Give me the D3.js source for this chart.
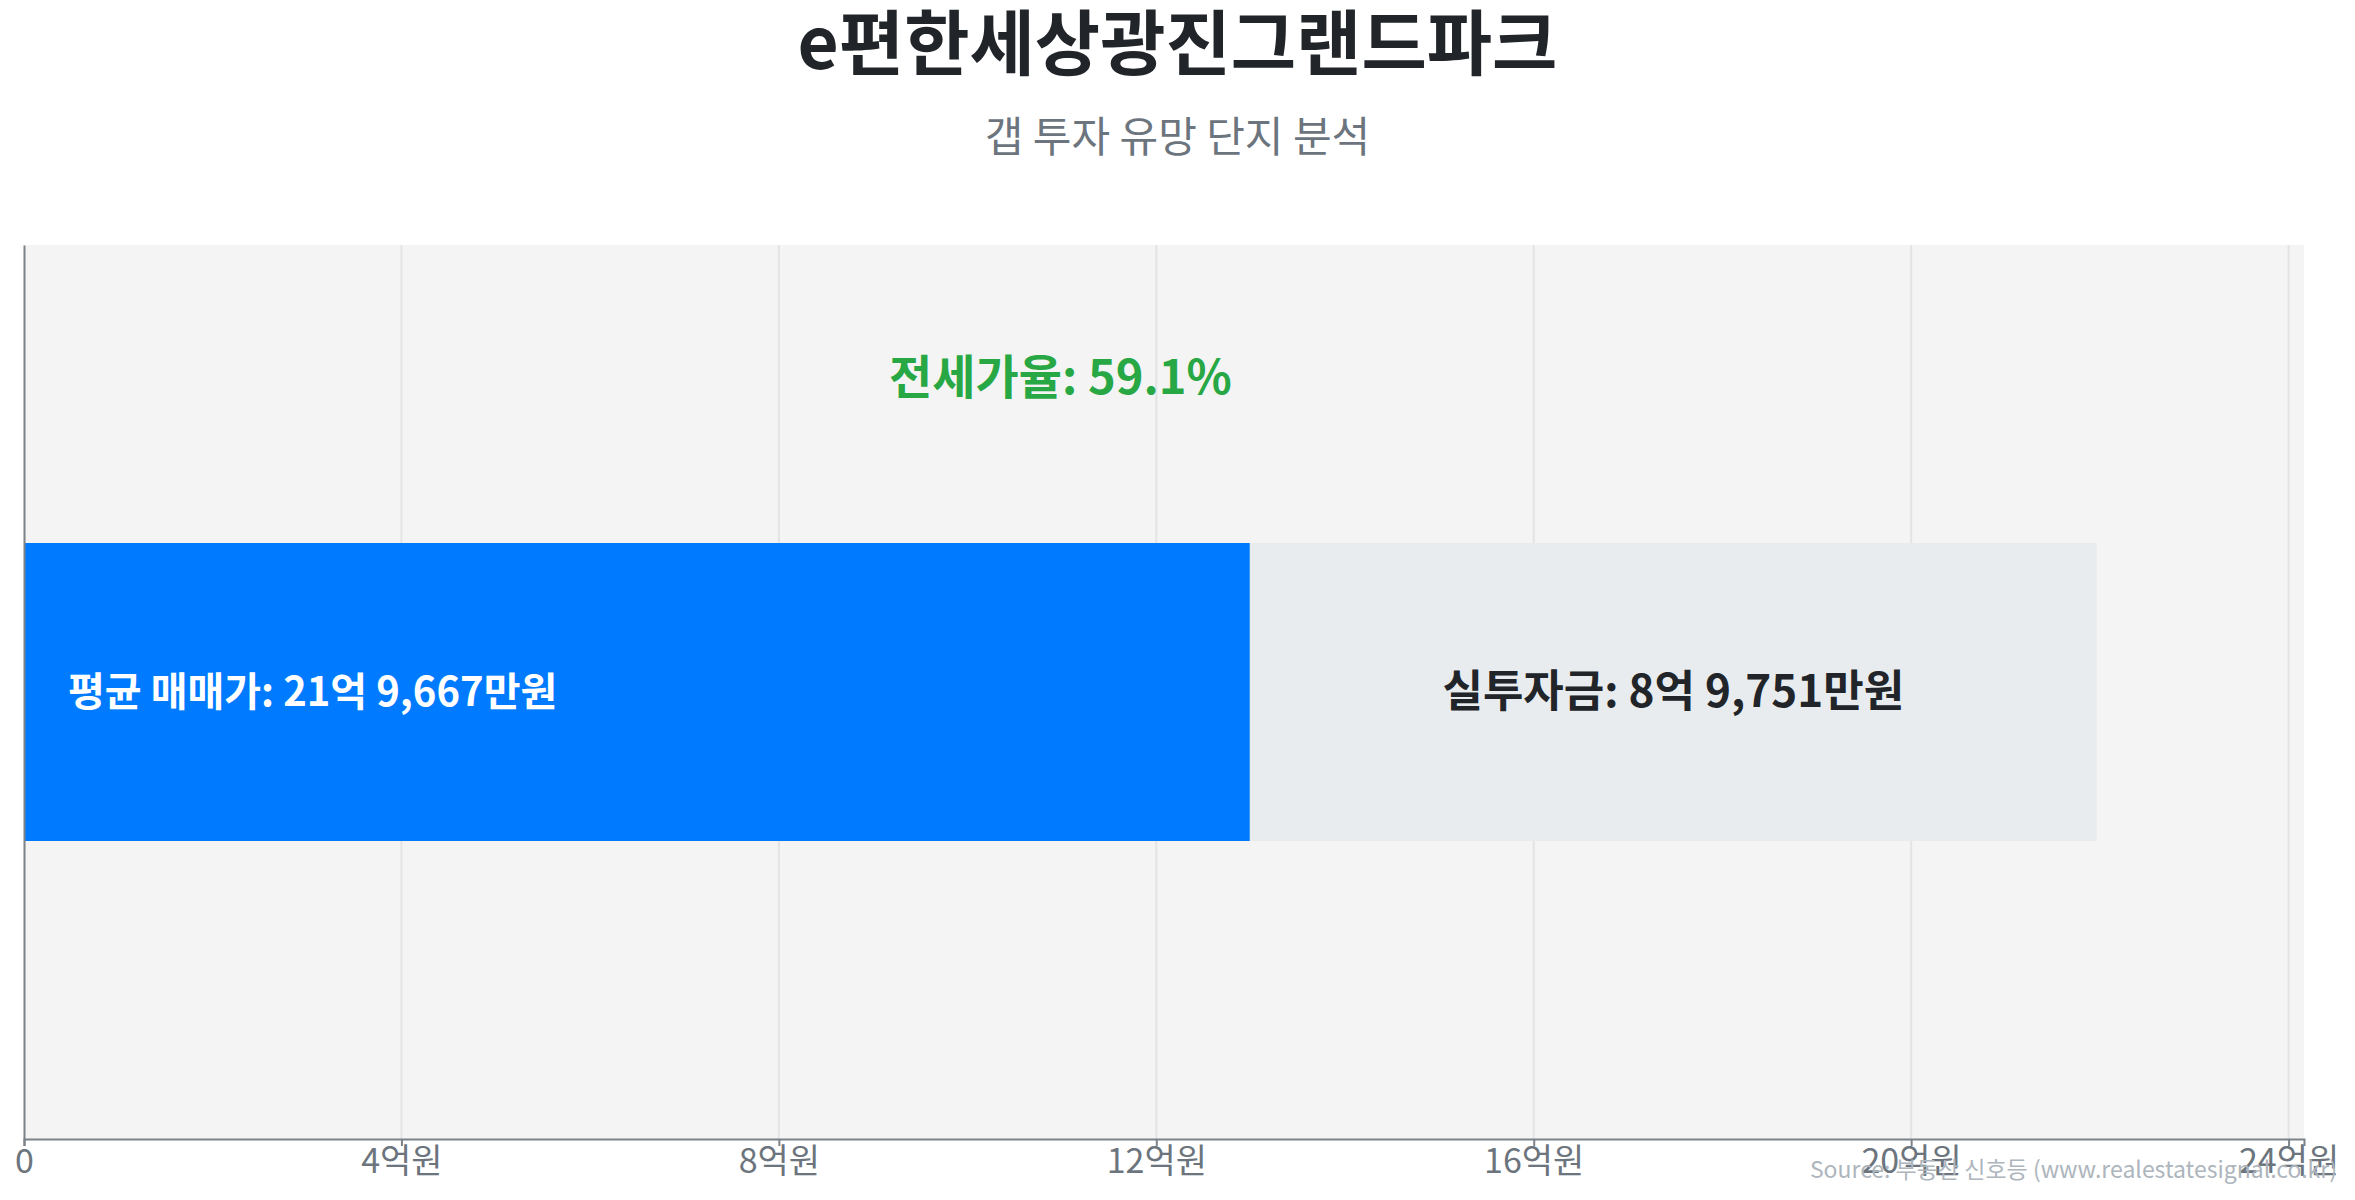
<!DOCTYPE html>
<html><head><meta charset="utf-8">
<script src="https://cdn.jsdelivr.net/npm/d3@7"></script>
<style>
html,body{margin:0;padding:0;background:#fff;}
svg{display:block;font-family:"Noto Sans CJK KR","Noto Sans",sans-serif;}
</style></head>
<body><svg id="chart" width="2355" height="1200"></svg>
<script>
const titleText = "e편한세상광진그랜드파크";
const subtitleText = "갭 투자 유망 단지 분석";
const sourceText = "Source: 부동산 신호등 (www.realestatesignal.co.kr)";
const categories = ["e편한세상광진그랜드파크"];
const avgPrice = [21.9667];     // 억원
const investment = [8.9751];    // 억원 (실투자금)
const tickValues = [0, 4, 8, 12, 16, 20, 24];
const tickLabels = ["0", "4억원", "8억원", "12억원", "16억원", "20억원", "24억원"];

const W = 2355, H = 1200;
const margin = {top: 245, right: 51, bottom: 61, left: 24};
const svg = d3.select("#chart");
const innerW = W - margin.left - margin.right;
const innerH = H - margin.top - margin.bottom;

const x = d3.scaleLinear().domain([0, d3.max(avgPrice) * 1.1]).range([margin.left, margin.left + innerW]);
const y = d3.scaleBand().domain(categories).range([margin.top, margin.top + innerH]).padding(0.5);

function fmtEok(v) {
  const eok = Math.floor(v);
  const man = Math.round((v - eok) * 10000);
  return eok + "억 " + d3.format(",")(man) + "만원";
}

// title & subtitle
svg.append("text").attr("x", W / 2).attr("y", 69).attr("text-anchor", "middle")
  .attr("font-size", 71).attr("font-weight", 700).attr("fill", "#212529").text(titleText);
svg.append("text").attr("x", W / 2).attr("y", 152).attr("text-anchor", "middle")
  .attr("font-size", 42).attr("font-weight", 400).attr("fill", "#6c757d").text(subtitleText);

// plot background
svg.append("rect").attr("x", margin.left).attr("y", margin.top)
  .attr("width", innerW).attr("height", innerH).attr("fill", "#f4f4f4");

// grid
svg.append("g").selectAll("line").data(tickValues.filter(d => d > 0)).join("line")
  .attr("x1", d => x(d)).attr("x2", d => x(d))
  .attr("y1", margin.top).attr("y2", margin.top + innerH)
  .attr("stroke", "#e4e4e4").attr("stroke-width", 2);

// bars
const rows = categories.map((c, i) => ({
  cat: c, price: avgPrice[i], inv: investment[i], jeonse: avgPrice[i] - investment[i]
}));
const g = svg.append("g");
g.selectAll("rect.jeonse").data(rows).join("rect").attr("class", "jeonse")
  .attr("x", d => x(0)).attr("y", d => y(d.cat))
  .attr("width", d => x(d.jeonse) - x(0)).attr("height", y.bandwidth())
  .attr("fill", "#007bff");
g.selectAll("rect.inv").data(rows).join("rect").attr("class", "inv")
  .attr("x", d => x(d.jeonse)).attr("y", d => y(d.cat))
  .attr("width", d => x(d.price) - x(d.jeonse)).attr("height", y.bandwidth())
  .attr("fill", "#e9ecef");

// labels
g.selectAll("text.pl").data(rows).join("text").attr("class", "pl")
  .attr("x", d => x(0) + 44).attr("y", d => y(d.cat) + y.bandwidth() / 2)
  .attr("dy", "0.35em").attr("font-size", 40).attr("font-weight", 700).attr("fill", "#fff")
  .text(d => "평균 매매가: " + fmtEok(d.price));
g.selectAll("text.il").data(rows).join("text").attr("class", "il")
  .attr("x", d => (x(d.jeonse) + x(d.price)) / 2).attr("y", d => y(d.cat) + y.bandwidth() / 2)
  .attr("dy", "0.35em").attr("text-anchor", "middle")
  .attr("font-size", 44).attr("font-weight", 700).attr("fill", "#212529")
  .text(d => "실투자금: " + fmtEok(d.inv));
g.selectAll("text.rate").data(rows).join("text").attr("class", "rate")
  .attr("x", d => x(d.price / 2)).attr("y", d => y(d.cat) - y.bandwidth() / 2)
  .attr("text-anchor", "middle")
  .attr("font-size", 47).attr("font-weight", 700).attr("fill", "#28a745")
  .text(d => "전세가율: " + (d.jeonse / d.price * 100).toFixed(1) + "%");

// axes
const xAxis = svg.append("g").attr("transform", `translate(0,${margin.top + innerH})`)
  .call(d3.axisBottom(x).tickValues(tickValues).tickFormat((d, i) => tickLabels[i]).tickSizeOuter(0).tickSize(7));
xAxis.select(".domain").attr("stroke", "#7b8288").attr("stroke-width", 2);
xAxis.selectAll(".tick line").attr("stroke", "#7b8288").attr("stroke-width", 2);
xAxis.selectAll(".tick text").attr("font-size", 34).attr("fill", "#6c757d")
  .attr("font-family", "\"Noto Sans CJK KR\",sans-serif").attr("dy", "0.8em").attr("y", 7);

const yAxis = svg.append("g").attr("transform", `translate(${margin.left},0)`)
  .call(d3.axisLeft(y).tickSize(0).tickSizeOuter(0).tickFormat(""));
yAxis.select(".domain").attr("stroke", "#7b8288").attr("stroke-width", 2);

// source
svg.append("text").attr("x", W - 18).attr("y", 1178).attr("text-anchor", "end")
  .attr("font-size", 23).attr("fill", "#adb5bd").text(sourceText);
</script></body></html>
